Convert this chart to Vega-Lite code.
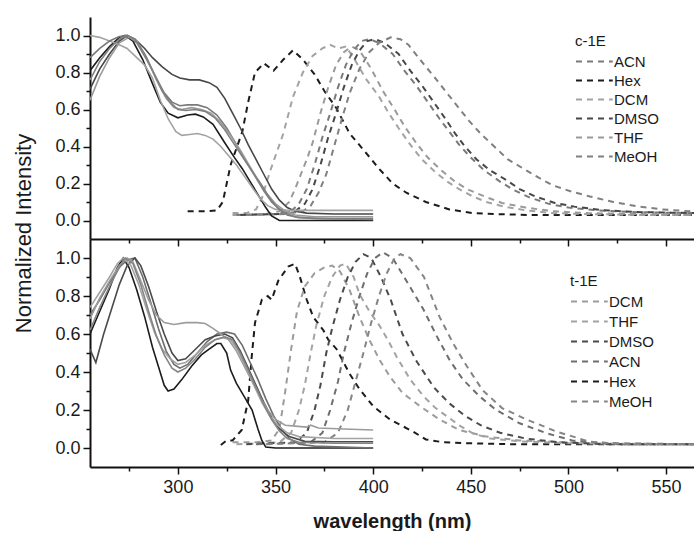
{
"$schema": "https://vega.github.io/schema/vega-lite/v6.json",
"background": "white",
"padding": {"left": 12, "top": 17, "right": 0, "bottom": 0},
"config": {
 "font": "Liberation Sans",
 "view": {"stroke": null},
 "axis": {"grid": false, "domainColor": "#111", "domainWidth": 2, "tickColor": "#111", "tickWidth": 1.5, "labelFont": "Liberation Sans", "labelFontSize": 18, "labelColor": "#1a1a1a", "titleFont": "Liberation Sans", "titleColor": "#1a1a1a"},
 "legend": {"titleFont": "Liberation Sans", "labelFont": "Liberation Sans", "orient": "none", "titleFontSize": 15, "titleFontWeight": "normal", "titleColor": "#1a1a1a", "titlePadding": 4, "labelFontSize": 15, "labelColor": "#1a1a1a", "labelOffset": 22, "symbolType": "M-1,0H3.9", "symbolSize": 225, "symbolStrokeWidth": 2, "symbolDash": [6, 5]}
},
"spacing": 0,
"bounds": "flush",
"resolve": {"scale": {"color": "independent"}, "legend": {"color": "independent"}},
"datasets": {
"c_abs": [
{"solvent":"Hex","nm":255,"v":0.81},{"solvent":"Hex","nm":260,"v":0.88},{"solvent":"Hex","nm":265,"v":0.94},{"solvent":"Hex","nm":270,"v":0.99},{"solvent":"Hex","nm":273,"v":1.0},{"solvent":"Hex","nm":277,"v":0.97},{"solvent":"Hex","nm":282,"v":0.87},{"solvent":"Hex","nm":287,"v":0.74},{"solvent":"Hex","nm":291,"v":0.64},{"solvent":"Hex","nm":295,"v":0.58},{"solvent":"Hex","nm":300,"v":0.555},{"solvent":"Hex","nm":305,"v":0.57},{"solvent":"Hex","nm":309,"v":0.575},{"solvent":"Hex","nm":313,"v":0.56},{"solvent":"Hex","nm":318,"v":0.52},{"solvent":"Hex","nm":324,"v":0.42},{"solvent":"Hex","nm":329,"v":0.34},{"solvent":"Hex","nm":333,"v":0.28},{"solvent":"Hex","nm":337,"v":0.21},{"solvent":"Hex","nm":341,"v":0.14},{"solvent":"Hex","nm":345,"v":0.07},{"solvent":"Hex","nm":348,"v":0.025},{"solvent":"Hex","nm":352,"v":0.0},{"solvent":"Hex","nm":360,"v":0.0},{"solvent":"Hex","nm":380,"v":0.0},{"solvent":"Hex","nm":400,"v":0.0},
{"solvent":"DMSO","nm":255,"v":0.71},{"solvent":"DMSO","nm":260,"v":0.82},{"solvent":"DMSO","nm":265,"v":0.9},{"solvent":"DMSO","nm":270,"v":0.97},{"solvent":"DMSO","nm":274,"v":1.0},{"solvent":"DMSO","nm":278,"v":0.98},{"solvent":"DMSO","nm":283,"v":0.93},{"solvent":"DMSO","nm":287,"v":0.88},{"solvent":"DMSO","nm":292,"v":0.83},{"solvent":"DMSO","nm":297,"v":0.79},{"solvent":"DMSO","nm":301,"v":0.77},{"solvent":"DMSO","nm":306,"v":0.76},{"solvent":"DMSO","nm":311,"v":0.76},{"solvent":"DMSO","nm":316,"v":0.745},{"solvent":"DMSO","nm":320,"v":0.72},{"solvent":"DMSO","nm":324,"v":0.66},{"solvent":"DMSO","nm":328,"v":0.58},{"solvent":"DMSO","nm":332,"v":0.5},{"solvent":"DMSO","nm":336,"v":0.41},{"solvent":"DMSO","nm":340,"v":0.33},{"solvent":"DMSO","nm":344,"v":0.25},{"solvent":"DMSO","nm":348,"v":0.17},{"solvent":"DMSO","nm":352,"v":0.11},{"solvent":"DMSO","nm":356,"v":0.07},{"solvent":"DMSO","nm":360,"v":0.05},{"solvent":"DMSO","nm":366,"v":0.04},{"solvent":"DMSO","nm":380,"v":0.035},{"solvent":"DMSO","nm":400,"v":0.035},
{"solvent":"DCM","nm":255,"v":1.0},{"solvent":"DCM","nm":260,"v":0.99},{"solvent":"DCM","nm":265,"v":0.97},{"solvent":"DCM","nm":270,"v":0.95},{"solvent":"DCM","nm":274,"v":0.93},{"solvent":"DCM","nm":278,"v":0.89},{"solvent":"DCM","nm":283,"v":0.84},{"solvent":"DCM","nm":287,"v":0.77},{"solvent":"DCM","nm":291,"v":0.65},{"solvent":"DCM","nm":295,"v":0.55},{"solvent":"DCM","nm":299,"v":0.48},{"solvent":"DCM","nm":302,"v":0.46},{"solvent":"DCM","nm":306,"v":0.465},{"solvent":"DCM","nm":310,"v":0.47},{"solvent":"DCM","nm":314,"v":0.46},{"solvent":"DCM","nm":318,"v":0.44},{"solvent":"DCM","nm":322,"v":0.4},{"solvent":"DCM","nm":326,"v":0.35},{"solvent":"DCM","nm":330,"v":0.3},{"solvent":"DCM","nm":334,"v":0.24},{"solvent":"DCM","nm":338,"v":0.18},{"solvent":"DCM","nm":342,"v":0.12},{"solvent":"DCM","nm":346,"v":0.08},{"solvent":"DCM","nm":350,"v":0.06},{"solvent":"DCM","nm":356,"v":0.055},{"solvent":"DCM","nm":370,"v":0.055},{"solvent":"DCM","nm":400,"v":0.055},
{"solvent":"ACN","nm":255,"v":0.88},{"solvent":"ACN","nm":260,"v":0.93},{"solvent":"ACN","nm":265,"v":0.97},{"solvent":"ACN","nm":270,"v":0.995},{"solvent":"ACN","nm":274,"v":1.0},{"solvent":"ACN","nm":279,"v":0.96},{"solvent":"ACN","nm":284,"v":0.87},{"solvent":"ACN","nm":289,"v":0.77},{"solvent":"ACN","nm":293,"v":0.69},{"solvent":"ACN","nm":297,"v":0.64},{"solvent":"ACN","nm":301,"v":0.62},{"solvent":"ACN","nm":305,"v":0.625},{"solvent":"ACN","nm":310,"v":0.625},{"solvent":"ACN","nm":315,"v":0.61},{"solvent":"ACN","nm":320,"v":0.57},{"solvent":"ACN","nm":325,"v":0.5},{"solvent":"ACN","nm":330,"v":0.41},{"solvent":"ACN","nm":335,"v":0.32},{"solvent":"ACN","nm":340,"v":0.23},{"solvent":"ACN","nm":344,"v":0.16},{"solvent":"ACN","nm":348,"v":0.1},{"solvent":"ACN","nm":352,"v":0.06},{"solvent":"ACN","nm":356,"v":0.03},{"solvent":"ACN","nm":362,"v":0.015},{"solvent":"ACN","nm":380,"v":0.01},{"solvent":"ACN","nm":400,"v":0.01},
{"solvent":"THF","nm":255,"v":0.65},{"solvent":"THF","nm":260,"v":0.78},{"solvent":"THF","nm":265,"v":0.88},{"solvent":"THF","nm":270,"v":0.96},{"solvent":"THF","nm":275,"v":0.99},{"solvent":"THF","nm":279,"v":0.97},{"solvent":"THF","nm":284,"v":0.88},{"solvent":"THF","nm":289,"v":0.76},{"solvent":"THF","nm":294,"v":0.66},{"solvent":"THF","nm":298,"v":0.61},{"solvent":"THF","nm":302,"v":0.6},{"solvent":"THF","nm":307,"v":0.61},{"solvent":"THF","nm":312,"v":0.6},{"solvent":"THF","nm":317,"v":0.58},{"solvent":"THF","nm":322,"v":0.53},{"solvent":"THF","nm":327,"v":0.46},{"solvent":"THF","nm":332,"v":0.38},{"solvent":"THF","nm":337,"v":0.29},{"solvent":"THF","nm":341,"v":0.22},{"solvent":"THF","nm":346,"v":0.14},{"solvent":"THF","nm":350,"v":0.09},{"solvent":"THF","nm":355,"v":0.05},{"solvent":"THF","nm":360,"v":0.03},{"solvent":"THF","nm":370,"v":0.02},{"solvent":"THF","nm":400,"v":0.02},
{"solvent":"MeOH","nm":255,"v":0.76},{"solvent":"MeOH","nm":260,"v":0.86},{"solvent":"MeOH","nm":265,"v":0.93},{"solvent":"MeOH","nm":270,"v":0.98},{"solvent":"MeOH","nm":274,"v":1.0},{"solvent":"MeOH","nm":278,"v":0.98},{"solvent":"MeOH","nm":283,"v":0.9},{"solvent":"MeOH","nm":288,"v":0.79},{"solvent":"MeOH","nm":292,"v":0.7},{"solvent":"MeOH","nm":296,"v":0.64},{"solvent":"MeOH","nm":300,"v":0.6},{"solvent":"MeOH","nm":304,"v":0.595},{"solvent":"MeOH","nm":309,"v":0.6},{"solvent":"MeOH","nm":314,"v":0.59},{"solvent":"MeOH","nm":319,"v":0.555},{"solvent":"MeOH","nm":324,"v":0.49},{"solvent":"MeOH","nm":329,"v":0.41},{"solvent":"MeOH","nm":334,"v":0.33},{"solvent":"MeOH","nm":339,"v":0.25},{"solvent":"MeOH","nm":343,"v":0.19},{"solvent":"MeOH","nm":347,"v":0.12},{"solvent":"MeOH","nm":351,"v":0.07},{"solvent":"MeOH","nm":355,"v":0.04},{"solvent":"MeOH","nm":360,"v":0.02},{"solvent":"MeOH","nm":370,"v":0.01},{"solvent":"MeOH","nm":400,"v":0.005}
],
"c_em": [
{"solvent":"Hex","nm":305,"v":0.05},{"solvent":"Hex","nm":310,"v":0.05},{"solvent":"Hex","nm":315,"v":0.05},{"solvent":"Hex","nm":320,"v":0.055},{"solvent":"Hex","nm":323,"v":0.1},{"solvent":"Hex","nm":327,"v":0.3},{"solvent":"Hex","nm":333,"v":0.48},{"solvent":"Hex","nm":336,"v":0.64},{"solvent":"Hex","nm":339.5,"v":0.8},{"solvent":"Hex","nm":344,"v":0.85},{"solvent":"Hex","nm":349,"v":0.81},{"solvent":"Hex","nm":354,"v":0.87},{"solvent":"Hex","nm":359,"v":0.92},{"solvent":"Hex","nm":364,"v":0.87},{"solvent":"Hex","nm":370,"v":0.79},{"solvent":"Hex","nm":375,"v":0.7},{"solvent":"Hex","nm":381,"v":0.61},{"solvent":"Hex","nm":388,"v":0.47},{"solvent":"Hex","nm":396,"v":0.37},{"solvent":"Hex","nm":403,"v":0.28},{"solvent":"Hex","nm":410,"v":0.2},{"solvent":"Hex","nm":417,"v":0.15},{"solvent":"Hex","nm":427,"v":0.1},{"solvent":"Hex","nm":439,"v":0.06},{"solvent":"Hex","nm":451,"v":0.04},{"solvent":"Hex","nm":462,"v":0.035},{"solvent":"Hex","nm":480,"v":0.03},{"solvent":"Hex","nm":500,"v":0.03},{"solvent":"Hex","nm":520,"v":0.03},{"solvent":"Hex","nm":540,"v":0.03},{"solvent":"Hex","nm":565,"v":0.03},
{"solvent":"DCM","nm":328,"v":0.04},{"solvent":"DCM","nm":335,"v":0.04},{"solvent":"DCM","nm":340,"v":0.06},{"solvent":"DCM","nm":343,"v":0.12},{"solvent":"DCM","nm":347,"v":0.26},{"solvent":"DCM","nm":351,"v":0.38},{"solvent":"DCM","nm":354,"v":0.47},{"solvent":"DCM","nm":359,"v":0.67},{"solvent":"DCM","nm":364,"v":0.8},{"solvent":"DCM","nm":369,"v":0.89},{"solvent":"DCM","nm":374,"v":0.93},{"solvent":"DCM","nm":378,"v":0.95},{"solvent":"DCM","nm":382,"v":0.93},{"solvent":"DCM","nm":386,"v":0.94},{"solvent":"DCM","nm":390,"v":0.88},{"solvent":"DCM","nm":396,"v":0.77},{"solvent":"DCM","nm":403,"v":0.67},{"solvent":"DCM","nm":408,"v":0.58},{"solvent":"DCM","nm":413,"v":0.5},{"solvent":"DCM","nm":419,"v":0.41},{"solvent":"DCM","nm":425,"v":0.33},{"solvent":"DCM","nm":432,"v":0.26},{"solvent":"DCM","nm":438,"v":0.21},{"solvent":"DCM","nm":444,"v":0.17},{"solvent":"DCM","nm":451,"v":0.13},{"solvent":"DCM","nm":458,"v":0.1},{"solvent":"DCM","nm":467,"v":0.075},{"solvent":"DCM","nm":478,"v":0.055},{"solvent":"DCM","nm":492,"v":0.04},{"solvent":"DCM","nm":510,"v":0.035},{"solvent":"DCM","nm":535,"v":0.03},{"solvent":"DCM","nm":565,"v":0.03},
{"solvent":"THF","nm":328,"v":0.03},{"solvent":"THF","nm":345,"v":0.035},{"solvent":"THF","nm":352,"v":0.05},{"solvent":"THF","nm":357,"v":0.1},{"solvent":"THF","nm":360,"v":0.17},{"solvent":"THF","nm":363,"v":0.25},{"solvent":"THF","nm":366,"v":0.33},{"solvent":"THF","nm":369,"v":0.42},{"solvent":"THF","nm":373,"v":0.58},{"solvent":"THF","nm":377,"v":0.72},{"solvent":"THF","nm":381,"v":0.84},{"solvent":"THF","nm":385,"v":0.91},{"solvent":"THF","nm":389,"v":0.94},{"solvent":"THF","nm":393,"v":0.92},{"solvent":"THF","nm":399,"v":0.82},{"solvent":"THF","nm":405,"v":0.7},{"solvent":"THF","nm":411,"v":0.6},{"solvent":"THF","nm":416,"v":0.51},{"solvent":"THF","nm":422,"v":0.42},{"solvent":"THF","nm":428,"v":0.34},{"solvent":"THF","nm":435,"v":0.27},{"solvent":"THF","nm":442,"v":0.21},{"solvent":"THF","nm":448,"v":0.17},{"solvent":"THF","nm":457,"v":0.13},{"solvent":"THF","nm":466,"v":0.095},{"solvent":"THF","nm":478,"v":0.07},{"solvent":"THF","nm":492,"v":0.05},{"solvent":"THF","nm":510,"v":0.04},{"solvent":"THF","nm":535,"v":0.035},{"solvent":"THF","nm":565,"v":0.03},
{"solvent":"ACN","nm":330,"v":0.03},{"solvent":"ACN","nm":350,"v":0.035},{"solvent":"ACN","nm":358,"v":0.05},{"solvent":"ACN","nm":362,"v":0.09},{"solvent":"ACN","nm":366,"v":0.17},{"solvent":"ACN","nm":370,"v":0.3},{"solvent":"ACN","nm":374,"v":0.45},{"solvent":"ACN","nm":378,"v":0.58},{"solvent":"ACN","nm":382,"v":0.72},{"solvent":"ACN","nm":386,"v":0.84},{"solvent":"ACN","nm":390,"v":0.92},{"solvent":"ACN","nm":394,"v":0.97},{"solvent":"ACN","nm":398,"v":0.98},{"solvent":"ACN","nm":403,"v":0.96},{"solvent":"ACN","nm":410,"v":0.9},{"solvent":"ACN","nm":416,"v":0.81},{"solvent":"ACN","nm":422,"v":0.73},{"solvent":"ACN","nm":428,"v":0.64},{"solvent":"ACN","nm":434,"v":0.55},{"solvent":"ACN","nm":439,"v":0.48},{"solvent":"ACN","nm":444,"v":0.41},{"solvent":"ACN","nm":450,"v":0.34},{"solvent":"ACN","nm":457,"v":0.27},{"solvent":"ACN","nm":465,"v":0.21},{"solvent":"ACN","nm":472,"v":0.165},{"solvent":"ACN","nm":480,"v":0.125},{"solvent":"ACN","nm":490,"v":0.09},{"solvent":"ACN","nm":500,"v":0.07},{"solvent":"ACN","nm":515,"v":0.055},{"solvent":"ACN","nm":535,"v":0.045},{"solvent":"ACN","nm":565,"v":0.04},
{"solvent":"DMSO","nm":332,"v":0.03},{"solvent":"DMSO","nm":352,"v":0.035},{"solvent":"DMSO","nm":360,"v":0.05},{"solvent":"DMSO","nm":365,"v":0.09},{"solvent":"DMSO","nm":369,"v":0.17},{"solvent":"DMSO","nm":373,"v":0.3},{"solvent":"DMSO","nm":377,"v":0.45},{"solvent":"DMSO","nm":381,"v":0.58},{"solvent":"DMSO","nm":385,"v":0.72},{"solvent":"DMSO","nm":389,"v":0.84},{"solvent":"DMSO","nm":393,"v":0.92},{"solvent":"DMSO","nm":397,"v":0.97},{"solvent":"DMSO","nm":401,"v":0.98},{"solvent":"DMSO","nm":406,"v":0.96},{"solvent":"DMSO","nm":413,"v":0.9},{"solvent":"DMSO","nm":419,"v":0.81},{"solvent":"DMSO","nm":425,"v":0.73},{"solvent":"DMSO","nm":431,"v":0.64},{"solvent":"DMSO","nm":437,"v":0.55},{"solvent":"DMSO","nm":442,"v":0.47},{"solvent":"DMSO","nm":447,"v":0.4},{"solvent":"DMSO","nm":453,"v":0.33},{"solvent":"DMSO","nm":460,"v":0.27},{"solvent":"DMSO","nm":468,"v":0.22},{"solvent":"DMSO","nm":475,"v":0.17},{"solvent":"DMSO","nm":483,"v":0.13},{"solvent":"DMSO","nm":493,"v":0.095},{"solvent":"DMSO","nm":503,"v":0.075},{"solvent":"DMSO","nm":518,"v":0.055},{"solvent":"DMSO","nm":538,"v":0.045},{"solvent":"DMSO","nm":565,"v":0.04},
{"solvent":"MeOH","nm":335,"v":0.03},{"solvent":"MeOH","nm":355,"v":0.035},{"solvent":"MeOH","nm":364,"v":0.05},{"solvent":"MeOH","nm":368,"v":0.08},{"solvent":"MeOH","nm":372,"v":0.15},{"solvent":"MeOH","nm":376,"v":0.25},{"solvent":"MeOH","nm":380,"v":0.4},{"solvent":"MeOH","nm":384,"v":0.55},{"solvent":"MeOH","nm":388,"v":0.69},{"solvent":"MeOH","nm":393,"v":0.82},{"solvent":"MeOH","nm":398,"v":0.91},{"solvent":"MeOH","nm":403,"v":0.96},{"solvent":"MeOH","nm":409,"v":0.99},{"solvent":"MeOH","nm":414,"v":0.98},{"solvent":"MeOH","nm":418,"v":0.95},{"solvent":"MeOH","nm":424,"v":0.87},{"solvent":"MeOH","nm":431,"v":0.78},{"solvent":"MeOH","nm":437,"v":0.7},{"solvent":"MeOH","nm":443,"v":0.62},{"solvent":"MeOH","nm":449,"v":0.54},{"solvent":"MeOH","nm":455,"v":0.47},{"solvent":"MeOH","nm":462,"v":0.4},{"solvent":"MeOH","nm":469,"v":0.33},{"solvent":"MeOH","nm":477,"v":0.28},{"solvent":"MeOH","nm":485,"v":0.23},{"solvent":"MeOH","nm":492,"v":0.19},{"solvent":"MeOH","nm":502,"v":0.155},{"solvent":"MeOH","nm":511,"v":0.13},{"solvent":"MeOH","nm":523,"v":0.1},{"solvent":"MeOH","nm":535,"v":0.077},{"solvent":"MeOH","nm":548,"v":0.06},{"solvent":"MeOH","nm":565,"v":0.048}
],
"t_abs": [
{"solvent":"Hex","nm":255,"v":0.6},{"solvent":"Hex","nm":260,"v":0.72},{"solvent":"Hex","nm":265,"v":0.84},{"solvent":"Hex","nm":269,"v":0.95},{"solvent":"Hex","nm":272,"v":1.0},{"solvent":"Hex","nm":275,"v":0.95},{"solvent":"Hex","nm":279,"v":0.83},{"solvent":"Hex","nm":283,"v":0.69},{"solvent":"Hex","nm":287,"v":0.53},{"solvent":"Hex","nm":290,"v":0.43},{"solvent":"Hex","nm":293,"v":0.33},{"solvent":"Hex","nm":295,"v":0.3},{"solvent":"Hex","nm":298,"v":0.31},{"solvent":"Hex","nm":302,"v":0.36},{"solvent":"Hex","nm":307,"v":0.43},{"solvent":"Hex","nm":312,"v":0.49},{"solvent":"Hex","nm":316,"v":0.52},{"solvent":"Hex","nm":320,"v":0.55},{"solvent":"Hex","nm":322,"v":0.55},{"solvent":"Hex","nm":325,"v":0.5},{"solvent":"Hex","nm":327,"v":0.41},{"solvent":"Hex","nm":330,"v":0.34},{"solvent":"Hex","nm":334,"v":0.27},{"solvent":"Hex","nm":338,"v":0.2},{"solvent":"Hex","nm":341,"v":0.1},{"solvent":"Hex","nm":343,"v":0.04},{"solvent":"Hex","nm":345,"v":0.005},{"solvent":"Hex","nm":350,"v":0.0},{"solvent":"Hex","nm":370,"v":0.0},{"solvent":"Hex","nm":400,"v":0.0},
{"solvent":"ACN","nm":255,"v":0.7},{"solvent":"ACN","nm":260,"v":0.78},{"solvent":"ACN","nm":265,"v":0.87},{"solvent":"ACN","nm":270,"v":0.95},{"solvent":"ACN","nm":274,"v":0.99},{"solvent":"ACN","nm":278,"v":1.0},{"solvent":"ACN","nm":282,"v":0.9},{"solvent":"ACN","nm":286,"v":0.77},{"solvent":"ACN","nm":290,"v":0.63},{"solvent":"ACN","nm":294,"v":0.51},{"solvent":"ACN","nm":298,"v":0.44},{"solvent":"ACN","nm":301,"v":0.42},{"solvent":"ACN","nm":305,"v":0.44},{"solvent":"ACN","nm":310,"v":0.5},{"solvent":"ACN","nm":315,"v":0.56},{"solvent":"ACN","nm":320,"v":0.6},{"solvent":"ACN","nm":325,"v":0.61},{"solvent":"ACN","nm":329,"v":0.6},{"solvent":"ACN","nm":333,"v":0.54},{"solvent":"ACN","nm":337,"v":0.45},{"solvent":"ACN","nm":341,"v":0.36},{"solvent":"ACN","nm":345,"v":0.26},{"solvent":"ACN","nm":349,"v":0.17},{"solvent":"ACN","nm":353,"v":0.1},{"solvent":"ACN","nm":357,"v":0.05},{"solvent":"ACN","nm":362,"v":0.02},{"solvent":"ACN","nm":370,"v":0.01},{"solvent":"ACN","nm":400,"v":0.0},
{"solvent":"DMSO","nm":255,"v":0.52},{"solvent":"DMSO","nm":258,"v":0.45},{"solvent":"DMSO","nm":262,"v":0.6},{"solvent":"DMSO","nm":266,"v":0.73},{"solvent":"DMSO","nm":270,"v":0.86},{"solvent":"DMSO","nm":274,"v":0.96},{"solvent":"DMSO","nm":278,"v":1.0},{"solvent":"DMSO","nm":281,"v":0.96},{"solvent":"DMSO","nm":285,"v":0.85},{"solvent":"DMSO","nm":289,"v":0.72},{"solvent":"DMSO","nm":293,"v":0.6},{"solvent":"DMSO","nm":297,"v":0.5},{"solvent":"DMSO","nm":300,"v":0.46},{"solvent":"DMSO","nm":304,"v":0.47},{"solvent":"DMSO","nm":309,"v":0.52},{"solvent":"DMSO","nm":314,"v":0.57},{"solvent":"DMSO","nm":319,"v":0.59},{"solvent":"DMSO","nm":324,"v":0.6},{"solvent":"DMSO","nm":328,"v":0.58},{"solvent":"DMSO","nm":332,"v":0.51},{"solvent":"DMSO","nm":336,"v":0.42},{"solvent":"DMSO","nm":340,"v":0.33},{"solvent":"DMSO","nm":344,"v":0.24},{"solvent":"DMSO","nm":348,"v":0.16},{"solvent":"DMSO","nm":352,"v":0.1},{"solvent":"DMSO","nm":357,"v":0.06},{"solvent":"DMSO","nm":365,"v":0.035},{"solvent":"DMSO","nm":380,"v":0.033},{"solvent":"DMSO","nm":400,"v":0.033},
{"solvent":"DCM","nm":255,"v":0.68},{"solvent":"DCM","nm":260,"v":0.79},{"solvent":"DCM","nm":265,"v":0.88},{"solvent":"DCM","nm":270,"v":0.96},{"solvent":"DCM","nm":274,"v":1.0},{"solvent":"DCM","nm":277,"v":0.98},{"solvent":"DCM","nm":281,"v":0.88},{"solvent":"DCM","nm":285,"v":0.78},{"solvent":"DCM","nm":289,"v":0.7},{"solvent":"DCM","nm":293,"v":0.66},{"solvent":"DCM","nm":298,"v":0.65},{"solvent":"DCM","nm":304,"v":0.66},{"solvent":"DCM","nm":310,"v":0.66},{"solvent":"DCM","nm":314,"v":0.655},{"solvent":"DCM","nm":318,"v":0.63},{"solvent":"DCM","nm":322,"v":0.6},{"solvent":"DCM","nm":326,"v":0.57},{"solvent":"DCM","nm":330,"v":0.51},{"solvent":"DCM","nm":334,"v":0.43},{"solvent":"DCM","nm":338,"v":0.35},{"solvent":"DCM","nm":342,"v":0.27},{"solvent":"DCM","nm":346,"v":0.2},{"solvent":"DCM","nm":350,"v":0.15},{"solvent":"DCM","nm":355,"v":0.12},{"solvent":"DCM","nm":360,"v":0.115},{"solvent":"DCM","nm":366,"v":0.11},{"solvent":"DCM","nm":368,"v":0.12},{"solvent":"DCM","nm":372,"v":0.105},{"solvent":"DCM","nm":385,"v":0.1},{"solvent":"DCM","nm":400,"v":0.095},
{"solvent":"THF","nm":255,"v":0.74},{"solvent":"THF","nm":260,"v":0.82},{"solvent":"THF","nm":265,"v":0.9},{"solvent":"THF","nm":269,"v":0.97},{"solvent":"THF","nm":272,"v":1.0},{"solvent":"THF","nm":276,"v":0.96},{"solvent":"THF","nm":280,"v":0.86},{"solvent":"THF","nm":284,"v":0.73},{"solvent":"THF","nm":288,"v":0.61},{"solvent":"THF","nm":292,"v":0.52},{"solvent":"THF","nm":296,"v":0.47},{"solvent":"THF","nm":300,"v":0.44},{"solvent":"THF","nm":304,"v":0.45},{"solvent":"THF","nm":309,"v":0.49},{"solvent":"THF","nm":314,"v":0.54},{"solvent":"THF","nm":319,"v":0.57},{"solvent":"THF","nm":323,"v":0.58},{"solvent":"THF","nm":327,"v":0.57},{"solvent":"THF","nm":331,"v":0.51},{"solvent":"THF","nm":335,"v":0.42},{"solvent":"THF","nm":339,"v":0.33},{"solvent":"THF","nm":343,"v":0.24},{"solvent":"THF","nm":347,"v":0.17},{"solvent":"THF","nm":351,"v":0.12},{"solvent":"THF","nm":356,"v":0.08},{"solvent":"THF","nm":362,"v":0.06},{"solvent":"THF","nm":380,"v":0.05},{"solvent":"THF","nm":400,"v":0.05},
{"solvent":"MeOH","nm":255,"v":0.62},{"solvent":"MeOH","nm":260,"v":0.74},{"solvent":"MeOH","nm":265,"v":0.85},{"solvent":"MeOH","nm":270,"v":0.95},{"solvent":"MeOH","nm":273,"v":1.0},{"solvent":"MeOH","nm":277,"v":0.97},{"solvent":"MeOH","nm":281,"v":0.86},{"solvent":"MeOH","nm":285,"v":0.72},{"solvent":"MeOH","nm":289,"v":0.59},{"solvent":"MeOH","nm":293,"v":0.49},{"solvent":"MeOH","nm":297,"v":0.42},{"solvent":"MeOH","nm":300,"v":0.4},{"solvent":"MeOH","nm":304,"v":0.42},{"solvent":"MeOH","nm":309,"v":0.47},{"solvent":"MeOH","nm":314,"v":0.53},{"solvent":"MeOH","nm":319,"v":0.57},{"solvent":"MeOH","nm":324,"v":0.585},{"solvent":"MeOH","nm":328,"v":0.57},{"solvent":"MeOH","nm":332,"v":0.5},{"solvent":"MeOH","nm":336,"v":0.41},{"solvent":"MeOH","nm":340,"v":0.32},{"solvent":"MeOH","nm":344,"v":0.23},{"solvent":"MeOH","nm":348,"v":0.15},{"solvent":"MeOH","nm":352,"v":0.09},{"solvent":"MeOH","nm":356,"v":0.05},{"solvent":"MeOH","nm":362,"v":0.03},{"solvent":"MeOH","nm":380,"v":0.025},{"solvent":"MeOH","nm":400,"v":0.025}
],
"t_em": [
{"solvent":"Hex","nm":322,"v":0.016},{"solvent":"Hex","nm":325,"v":0.04},{"solvent":"Hex","nm":328,"v":0.04},{"solvent":"Hex","nm":332.7,"v":0.095},{"solvent":"Hex","nm":336,"v":0.25},{"solvent":"Hex","nm":337.8,"v":0.48},{"solvent":"Hex","nm":339.5,"v":0.66},{"solvent":"Hex","nm":343,"v":0.78},{"solvent":"Hex","nm":346,"v":0.8},{"solvent":"Hex","nm":348,"v":0.78},{"solvent":"Hex","nm":351.4,"v":0.88},{"solvent":"Hex","nm":356.5,"v":0.955},{"solvent":"Hex","nm":360,"v":0.97},{"solvent":"Hex","nm":362.5,"v":0.9},{"solvent":"Hex","nm":366,"v":0.78},{"solvent":"Hex","nm":369.3,"v":0.69},{"solvent":"Hex","nm":374.5,"v":0.62},{"solvent":"Hex","nm":377,"v":0.57},{"solvent":"Hex","nm":381.3,"v":0.52},{"solvent":"Hex","nm":388,"v":0.39},{"solvent":"Hex","nm":393,"v":0.31},{"solvent":"Hex","nm":400,"v":0.22},{"solvent":"Hex","nm":408.6,"v":0.15},{"solvent":"Hex","nm":420.5,"v":0.086},{"solvent":"Hex","nm":427,"v":0.045},{"solvent":"Hex","nm":436,"v":0.03},{"solvent":"Hex","nm":448,"v":0.025},{"solvent":"Hex","nm":470,"v":0.02},{"solvent":"Hex","nm":500,"v":0.02},{"solvent":"Hex","nm":530,"v":0.02},{"solvent":"Hex","nm":565,"v":0.02},
{"solvent":"DCM","nm":328,"v":0.03},{"solvent":"DCM","nm":340,"v":0.03},{"solvent":"DCM","nm":348,"v":0.04},{"solvent":"DCM","nm":352,"v":0.1},{"solvent":"DCM","nm":355,"v":0.3},{"solvent":"DCM","nm":358,"v":0.52},{"solvent":"DCM","nm":361,"v":0.72},{"solvent":"DCM","nm":365,"v":0.85},{"solvent":"DCM","nm":370,"v":0.92},{"solvent":"DCM","nm":375,"v":0.95},{"solvent":"DCM","nm":379,"v":0.96},{"solvent":"DCM","nm":383,"v":0.93},{"solvent":"DCM","nm":388,"v":0.83},{"solvent":"DCM","nm":393,"v":0.69},{"solvent":"DCM","nm":398,"v":0.57},{"solvent":"DCM","nm":403.5,"v":0.46},{"solvent":"DCM","nm":408.6,"v":0.375},{"solvent":"DCM","nm":415,"v":0.29},{"solvent":"DCM","nm":424,"v":0.22},{"solvent":"DCM","nm":434,"v":0.15},{"solvent":"DCM","nm":444,"v":0.095},{"solvent":"DCM","nm":458,"v":0.06},{"solvent":"DCM","nm":475,"v":0.04},{"solvent":"DCM","nm":500,"v":0.03},{"solvent":"DCM","nm":530,"v":0.02},{"solvent":"DCM","nm":565,"v":0.02},
{"solvent":"THF","nm":330,"v":0.02},{"solvent":"THF","nm":352,"v":0.03},{"solvent":"THF","nm":358,"v":0.08},{"solvent":"THF","nm":362,"v":0.2},{"solvent":"THF","nm":365,"v":0.33},{"solvent":"THF","nm":368,"v":0.5},{"solvent":"THF","nm":371,"v":0.65},{"solvent":"THF","nm":375,"v":0.8},{"solvent":"THF","nm":379,"v":0.9},{"solvent":"THF","nm":383,"v":0.96},{"solvent":"THF","nm":386,"v":0.97},{"solvent":"THF","nm":390,"v":0.9},{"solvent":"THF","nm":393,"v":0.81},{"solvent":"THF","nm":398,"v":0.72},{"solvent":"THF","nm":403.5,"v":0.64},{"solvent":"THF","nm":408,"v":0.56},{"solvent":"THF","nm":412,"v":0.48},{"solvent":"THF","nm":419,"v":0.36},{"solvent":"THF","nm":426,"v":0.27},{"solvent":"THF","nm":432,"v":0.21},{"solvent":"THF","nm":438,"v":0.165},{"solvent":"THF","nm":444,"v":0.12},{"solvent":"THF","nm":451,"v":0.077},{"solvent":"THF","nm":460,"v":0.05},{"solvent":"THF","nm":475,"v":0.035},{"solvent":"THF","nm":500,"v":0.025},{"solvent":"THF","nm":565,"v":0.02},
{"solvent":"DMSO","nm":335,"v":0.02},{"solvent":"DMSO","nm":360,"v":0.03},{"solvent":"DMSO","nm":366,"v":0.08},{"solvent":"DMSO","nm":370,"v":0.2},{"solvent":"DMSO","nm":373,"v":0.33},{"solvent":"DMSO","nm":376,"v":0.5},{"solvent":"DMSO","nm":379,"v":0.63},{"solvent":"DMSO","nm":383,"v":0.78},{"solvent":"DMSO","nm":387,"v":0.9},{"solvent":"DMSO","nm":391,"v":0.98},{"solvent":"DMSO","nm":395,"v":1.02},{"solvent":"DMSO","nm":399,"v":1.0},{"solvent":"DMSO","nm":404,"v":0.9},{"solvent":"DMSO","nm":409,"v":0.78},{"solvent":"DMSO","nm":415,"v":0.6},{"solvent":"DMSO","nm":422,"v":0.46},{"solvent":"DMSO","nm":431,"v":0.32},{"solvent":"DMSO","nm":439,"v":0.235},{"solvent":"DMSO","nm":447,"v":0.17},{"solvent":"DMSO","nm":455,"v":0.12},{"solvent":"DMSO","nm":465,"v":0.08},{"solvent":"DMSO","nm":478,"v":0.05},{"solvent":"DMSO","nm":495,"v":0.03},{"solvent":"DMSO","nm":520,"v":0.02},{"solvent":"DMSO","nm":565,"v":0.02},
{"solvent":"ACN","nm":340,"v":0.02},{"solvent":"ACN","nm":368,"v":0.03},{"solvent":"ACN","nm":374,"v":0.08},{"solvent":"ACN","nm":378,"v":0.2},{"solvent":"ACN","nm":382,"v":0.35},{"solvent":"ACN","nm":385,"v":0.5},{"solvent":"ACN","nm":389,"v":0.66},{"solvent":"ACN","nm":393,"v":0.8},{"solvent":"ACN","nm":397,"v":0.92},{"solvent":"ACN","nm":401,"v":1.0},{"solvent":"ACN","nm":405,"v":1.03},{"solvent":"ACN","nm":410,"v":1.0},{"solvent":"ACN","nm":417,"v":0.88},{"solvent":"ACN","nm":425.7,"v":0.73},{"solvent":"ACN","nm":432.5,"v":0.59},{"solvent":"ACN","nm":439.3,"v":0.46},{"solvent":"ACN","nm":446,"v":0.36},{"solvent":"ACN","nm":454.7,"v":0.27},{"solvent":"ACN","nm":463,"v":0.2},{"solvent":"ACN","nm":475,"v":0.13},{"solvent":"ACN","nm":489,"v":0.077},{"solvent":"ACN","nm":502,"v":0.04},{"solvent":"ACN","nm":520,"v":0.025},{"solvent":"ACN","nm":565,"v":0.02},
{"solvent":"MeOH","nm":345,"v":0.02},{"solvent":"MeOH","nm":375,"v":0.03},{"solvent":"MeOH","nm":382,"v":0.08},{"solvent":"MeOH","nm":387,"v":0.2},{"solvent":"MeOH","nm":391,"v":0.35},{"solvent":"MeOH","nm":395,"v":0.5},{"solvent":"MeOH","nm":399,"v":0.66},{"solvent":"MeOH","nm":403,"v":0.8},{"solvent":"MeOH","nm":407,"v":0.92},{"solvent":"MeOH","nm":411,"v":1.0},{"solvent":"MeOH","nm":414,"v":1.02},{"solvent":"MeOH","nm":419,"v":1.0},{"solvent":"MeOH","nm":426,"v":0.9},{"solvent":"MeOH","nm":434,"v":0.69},{"solvent":"MeOH","nm":441,"v":0.55},{"solvent":"MeOH","nm":448,"v":0.43},{"solvent":"MeOH","nm":456,"v":0.305},{"solvent":"MeOH","nm":466,"v":0.21},{"solvent":"MeOH","nm":478.6,"v":0.15},{"solvent":"MeOH","nm":494,"v":0.086},{"solvent":"MeOH","nm":511,"v":0.033},{"solvent":"MeOH","nm":530,"v":0.02},{"solvent":"MeOH","nm":565,"v":0.02}
]
},
"vconcat": [
{
 "width": 604, "height": 222,
 "resolve": {"axis": {"x": "independent", "y": "independent"}},
 "layer": [
  {
   "data": {"name": "c_em"},
   "mark": {"type": "line", "strokeDash": [6, 5], "strokeWidth": 2, "clip": true},
   "encoding": {
    "x": {"field": "nm", "type": "quantitative", "scale": {"domain": [255, 564.3], "nice": false, "zero": false}, "axis": {"orient": "bottom", "values": [275, 325, 375, 425, 475, 525], "labels": false, "domain": false, "tickSize": 4, "title": null}},
    "y": {"field": "v", "type": "quantitative", "scale": {"domain": [-0.1, 1.1], "nice": false, "zero": false}, "axis": {"orient": "left", "values": [0.1, 0.3, 0.5, 0.7, 0.9], "labels": false, "domain": false, "tickSize": 4, "title": null}},
    "color": {"field": "solvent", "type": "nominal",
     "scale": {"domain": ["ACN", "Hex", "DCM", "DMSO", "THF", "MeOH"], "range": ["#7a7a7a", "#1c1c1c", "#a3a3a3", "#474747", "#9a9a9a", "#808080"]},
     "legend": {"title": "c-1E", "legendX": 485, "legendY": 17, "rowPadding": 2}}
   }
  },
  {
   "data": {"name": "c_abs"},
   "mark": {"type": "line", "strokeWidth": 1.6, "clip": true},
   "encoding": {
    "x": {"field": "nm", "type": "quantitative", "scale": {"domain": [255, 564.3], "nice": false, "zero": false}, "axis": {"orient": "bottom", "values": [300, 350, 400, 450, 500, 550], "labels": false, "tickSize": 7, "title": null}},
    "y": {"field": "v", "type": "quantitative", "scale": {"domain": [-0.1, 1.1], "nice": false, "zero": false}, "axis": {"orient": "left", "values": [0, 0.2, 0.4, 0.6, 0.8, 1.0], "format": ".1f", "tickSize": 7, "labelPadding": 3, "title": "Normalized Intensity", "titleFontSize": 22, "titleFontWeight": "normal", "titleX": -55, "titleY": 216}},
    "color": {"field": "solvent", "type": "nominal",
     "scale": {"domain": ["ACN", "Hex", "DCM", "DMSO", "THF", "MeOH"], "range": ["#7a7a7a", "#1c1c1c", "#a3a3a3", "#474747", "#9a9a9a", "#808080"]},
     "legend": {"title": "c-1E", "legendX": 485, "legendY": 17, "rowPadding": 2}}
   }
  }
 ]
},
{
 "width": 604, "height": 228,
 "resolve": {"axis": {"x": "independent", "y": "independent"}},
 "layer": [
  {
   "data": {"name": "t_em"},
   "mark": {"type": "line", "strokeDash": [6, 5], "strokeWidth": 2, "clip": true},
   "encoding": {
    "x": {"field": "nm", "type": "quantitative", "scale": {"domain": [255, 564.3], "nice": false, "zero": false}, "axis": {"orient": "bottom", "values": [275, 325, 375, 425, 475, 525], "labels": false, "domain": false, "tickSize": 4, "title": null}},
    "y": {"field": "v", "type": "quantitative", "scale": {"domain": [-0.1, 1.1], "nice": false, "zero": false}, "axis": {"orient": "left", "values": [0.1, 0.3, 0.5, 0.7, 0.9], "labels": false, "domain": false, "tickSize": 4, "title": null}},
    "color": {"field": "solvent", "type": "nominal",
     "scale": {"domain": ["DCM", "THF", "DMSO", "ACN", "Hex", "MeOH"], "range": ["#9c9c9c", "#a3a3a3", "#4a4a4a", "#6e6e6e", "#1c1c1c", "#858585"]},
     "legend": {"title": "t-1E", "legendX": 480, "legendY": 35, "rowPadding": 3}}
   }
  },
  {
   "data": {"name": "t_abs"},
   "mark": {"type": "line", "strokeWidth": 1.6, "clip": true},
   "encoding": {
    "x": {"field": "nm", "type": "quantitative", "scale": {"domain": [255, 564.3], "nice": false, "zero": false}, "axis": {"orient": "bottom", "values": [300, 350, 400, 450, 500, 550], "format": "d", "tickSize": 7, "labelPadding": 4, "title": "wavelength (nm)", "titleFontSize": 20, "titleFontWeight": "bold", "titlePadding": 15}},
    "y": {"field": "v", "type": "quantitative", "scale": {"domain": [-0.1, 1.1], "nice": false, "zero": false}, "axis": {"orient": "left", "values": [0, 0.2, 0.4, 0.6, 0.8, 1.0], "format": ".1f", "tickSize": 7, "labelPadding": 3, "title": null}},
    "color": {"field": "solvent", "type": "nominal",
     "scale": {"domain": ["DCM", "THF", "DMSO", "ACN", "Hex", "MeOH"], "range": ["#9c9c9c", "#a3a3a3", "#4a4a4a", "#6e6e6e", "#1c1c1c", "#858585"]},
     "legend": {"title": "t-1E", "legendX": 480, "legendY": 35, "rowPadding": 3}}
   }
  }
 ]
}
]
}
